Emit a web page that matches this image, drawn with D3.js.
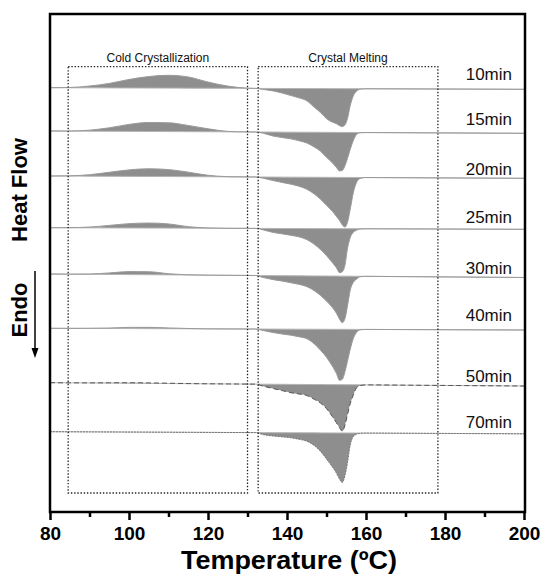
<!DOCTYPE html>
<html>
<head>
<meta charset="utf-8">
<script src="https://cdn.jsdelivr.net/npm/d3@7/dist/d3.min.js"></script>
<style>
  body { margin: 0; background: #fff; }
  text { font-family: 'Liberation Sans', Arial, sans-serif; }
</style>
</head>
<body>
<div id="graph"></div>
<script>
// DSC curves, one per annealing time

// Series names (annealing time)
const seriesLabels = ['10min', '15min', '20min', '25min', '30min', '40min', '50min', '70min'];

// Temperature grid (°C) shared by every curve
const temps = [80, 85, 90, 95, 100, 105, 110, 115, 120, 125, 130,
  132, 134, 136.5, 139, 141, 143, 145, 147, 148.5, 150, 151.5, 152.5,
  153.3, 154, 154.7, 155.3, 156, 156.8, 157.6, 158.5, 160, 170, 200];

// Baseline heat flow (a.u., stacked) at 80 °C and at 200 °C
const baseStart = [42.43, 38.1, 33.6, 28.43, 23.8, 18.37, 12.93, 8.03];
const baseEnd = [42.27, 37.87, 33.37, 28.27, 23.45, 18.2, 12.6, 7.82];

// Heat flow relative to baseline (exo up, endo down)
const flow10 = [0, 0.03, 0.18, 0.45, 0.85, 1.15, 1.28, 1.12, 0.62, 0.22, 0.02,
  0, -0.1, -0.25, -0.48, -0.7, -0.93, -1.22, -1.9, -2.4, -3.0, -3.35, -3.5,
  -3.7, -3.78, -3.6, -3.0, -1.7, -0.7, -0.25, -0.05, 0, 0, 0];
const flow15 = [0, 0.01, 0.1, 0.35, 0.7, 0.9, 0.88, 0.62, 0.3, 0.05, 0,
  0, -0.12, -0.4, -0.55, -0.67, -0.85, -1.07, -1.5, -1.9, -2.5, -3.05, -3.5,
  -3.85, -3.8, -3.3, -2.6, -1.7, -0.8, -0.2, -0.03, 0, 0, 0];
const flow20 = [0, 0.03, 0.15, 0.4, 0.65, 0.77, 0.7, 0.45, 0.15, 0.02, 0,
  0, -0.12, -0.35, -0.55, -0.7, -0.9, -1.2, -1.7, -2.2, -2.8, -3.4, -3.9,
  -4.3, -4.75, -4.95, -4.5, -3.2, -1.5, -0.5, -0.1, 0, 0, 0];
const flow25 = [0, 0.01, 0.08, 0.25, 0.43, 0.5, 0.42, 0.15, 0.03, 0, 0,
  0, -0.15, -0.4, -0.55, -0.68, -0.83, -1.1, -1.6, -2.1, -2.7, -3.4, -3.9,
  -4.4, -4.3, -3.6, -2.0, -0.9, -0.35, -0.15, -0.03, 0, 0, 0];
const flow30 = [0, 0, 0.03, 0.15, 0.3, 0.3, 0.12, 0.02, 0, 0, 0,
  0, -0.2, -0.4, -0.55, -0.7, -0.85, -1.07, -1.5, -1.95, -2.5, -3.15, -3.7,
  -4.3, -4.65, -4.2, -3.0, -1.4, -0.6, -0.3, -0.05, 0, 0, 0];
const flow40 = [0, 0, 0.02, 0.05, 0.12, 0.13, 0.08, 0.03, 0, 0, 0,
  0, -0.15, -0.35, -0.5, -0.6, -0.75, -0.95, -1.5, -2.1, -2.8, -3.7, -4.4,
  -5.1, -5.0, -4.2, -3.2, -2.0, -0.9, -0.3, -0.05, 0, 0, 0];
const flow50 = [0, 0, 0.01, 0.03, 0.05, 0.05, 0.03, 0.01, 0, 0, 0,
  0, -0.2, -0.43, -0.65, -0.83, -0.95, -1.1, -1.5, -1.85, -2.4, -3.2, -3.8,
  -4.3, -4.65, -4.0, -3.0, -1.9, -1.0, -0.3, -0.08, 0, 0, 0];
const flow70 = [0, 0, 0, 0, 0, 0, 0, 0, 0, 0, 0,
  0, -0.2, -0.33, -0.42, -0.5, -0.65, -0.83, -1.3, -1.85, -2.6, -3.4, -4.0,
  -4.6, -4.95, -4.2, -3.0, -1.2, -0.35, -0.12, -0.03, 0, 0, 0];
const heatFlow = [flow10, flow15, flow20, flow25, flow30, flow40, flow50, flow70];

// Marked regions (dotted boxes)
const regionNames = ['Cold Crystallization', 'Crystal Melting'];
const regionStart = [84.6, 132.7];
const regionEnd = [130, 178.2];
const regionTop = 44.53;
const regionBottom = 1.9;

// Axis ticks
const majorTicks = [80, 100, 120, 140, 160, 180, 200];
const minorTicks = [90, 110, 130, 150, 170, 190];

/*------------------------------------------------------*/

/*
 * Layout
 */

const width = 542;
const height = 575;
const plotLeft = 50, plotRight = 524, plotTop = 14, plotBottom = 512;

// Label baselines (px) for the time labels on the right
const labelBaseline = [80, 125, 174.5, 222.7, 274, 320.5, 381.5, 428];

const svg = d3.select('#graph')
  .append('svg')
  .attr('width', width)
  .attr('height', height);

const x = d3.scaleLinear().domain([80, 200]).range([plotLeft, plotRight]);
const y = d3.scaleLinear().domain([0, 49.8]).range([plotBottom, plotTop]);

/*------------------------------------------------------*/

/*
 * Curves
 */

const curves = svg.append('g');

seriesLabels.forEach((label, i) => {
  // straight baseline through the two read values
  const base = (t) => baseStart[i] + (baseEnd[i] - baseStart[i]) * (t - 80) / 120;
  const pts = temps.map((t, j) => ({ t: t, b: base(t), v: base(t) + heatFlow[i][j] }));

  const area = d3.area()
    .x((d) => x(d.t))
    .y0((d) => y(d.b))
    .y1((d) => y(d.v))
    .curve(d3.curveMonotoneX);

  const line = d3.line()
    .x((d) => x(d.t))
    .y((d) => y(d.v))
    .curve(d3.curveMonotoneX);

  curves.append('path')
    .attr('d', area(pts))
    .attr('fill', '#8e8e8e');

  curves.append('line')
    .attr('x1', x(80)).attr('x2', x(200))
    .attr('y1', y(base(80))).attr('y2', y(base(200)))
    .attr('stroke', '#b4b4b4')
    .attr('stroke-width', 1);

  let stroke = '#9a9a9a', dash = null;
  if (label === '50min') { stroke = '#555'; dash = '5,3'; }
  if (label === '70min') { stroke = '#777'; dash = '2,1'; }

  curves.append('path')
    .attr('d', line(pts))
    .attr('fill', 'none')
    .attr('stroke', stroke)
    .attr('stroke-width', 1)
    .attr('stroke-dasharray', dash);

  svg.append('text')
    .attr('x', 512)
    .attr('y', labelBaseline[i])
    .attr('text-anchor', 'end')
    .attr('font-size', 17)
    .attr('fill', '#111')
    .text(label);
});

/*------------------------------------------------------*/

/*
 * Dotted region boxes
 */

regionNames.forEach((name, i) => {
  svg.append('rect')
    .attr('x', x(regionStart[i]))
    .attr('y', y(regionTop))
    .attr('width', x(regionEnd[i]) - x(regionStart[i]))
    .attr('height', y(regionBottom) - y(regionTop))
    .attr('fill', 'none')
    .attr('stroke', '#222')
    .attr('stroke-width', 1.3)
    .attr('stroke-dasharray', '1.4,1.8');

  svg.append('text')
    .attr('x', (x(regionStart[i]) + x(regionEnd[i])) / 2)
    .attr('y', y(regionTop) - 4.5)
    .attr('text-anchor', 'middle')
    .attr('font-size', 12)
    .attr('fill', '#111')
    .text(name);
});

/*------------------------------------------------------*/

/*
 * Frame and axes
 */

svg.append('rect')
  .attr('x', plotLeft)
  .attr('y', plotTop)
  .attr('width', 525 - plotLeft)
  .attr('height', plotBottom - plotTop)
  .attr('fill', 'none')
  .attr('stroke', '#000')
  .attr('stroke-width', 2.5);

const xAxis = svg.append('g')
  .attr('transform', `translate(0,${plotBottom})`)
  .call(d3.axisBottom(x).tickValues(majorTicks).tickSize(8).tickSizeOuter(0)
    .tickFormat(d3.format('d')));
xAxis.select('.domain').remove();
xAxis.selectAll('.tick line').attr('stroke-width', 2.5);
xAxis.selectAll('.tick text')
  .attr('y', 28)
  .attr('dy', null)
  .attr('font-size', 19)
  .attr('font-weight', 'bold')
  .attr('font-family', "'Liberation Sans', Arial, sans-serif");

const xMinor = svg.append('g')
  .attr('transform', `translate(0,${plotBottom})`)
  .call(d3.axisBottom(x).tickValues(minorTicks).tickSize(5).tickFormat(''));
xMinor.select('.domain').remove();
xMinor.selectAll('.tick line').attr('stroke-width', 2.5);

svg.append('text')
  .attr('x', 289)
  .attr('y', 569)
  .attr('text-anchor', 'middle')
  .attr('font-size', 25)
  .attr('font-weight', 'bold')
  .attr('textLength', 216)
  .attr('lengthAdjust', 'spacingAndGlyphs')
  .text('Temperature (ºC)');

// Y label: Heat Flow / Endo with arrow
svg.append('text')
  .attr('transform', 'translate(27,190) rotate(-90)')
  .attr('text-anchor', 'middle')
  .attr('font-size', 22)
  .attr('font-weight', 'bold')
  .text('Heat Flow');

svg.append('text')
  .attr('transform', 'translate(27,310) rotate(-90)')
  .attr('text-anchor', 'middle')
  .attr('font-size', 22)
  .attr('font-weight', 'bold')
  .text('Endo');

svg.append('line')
  .attr('x1', 35).attr('x2', 35)
  .attr('y1', 271).attr('y2', 350)
  .attr('stroke', '#000')
  .attr('stroke-width', 1.5);
svg.append('path')
  .attr('d', 'M31.5,348 L38.5,348 L35,358 Z')
  .attr('fill', '#000');
</script>
</body>
</html>
